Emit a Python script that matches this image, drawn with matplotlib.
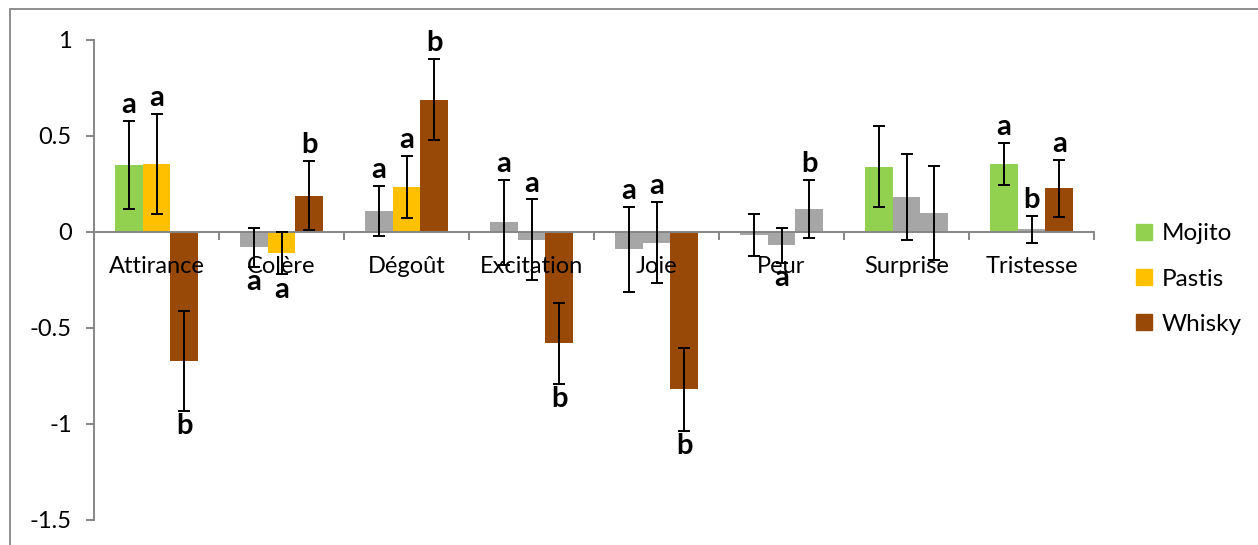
import numpy as np
import matplotlib
matplotlib.use("Agg")
import matplotlib.pyplot as plt
from matplotlib.patches import Rectangle, Patch

plt.rcParams.update({
    "font.family": ["Lato", "DejaVu Sans"],
    "font.size": 17,
})

# ===== DATA =====
categories = ["Attirance", "Colère", "Dégoût", "Excitation", "Joie", "Peur", "Surprise", "Tristesse"]
series = ["Mojito", "Pastis", "Whisky"]

mojito     = [0.35, -0.08, 0.11, 0.05, -0.09, -0.015, 0.34, 0.355]
mojito_err = [0.23, 0.10, 0.13, 0.22, 0.22, 0.11, 0.21, 0.11]
pastis     = [0.355, -0.11, 0.235, -0.04, -0.055, -0.07, 0.183, 0.015]
pastis_err = [0.26, 0.11, 0.16, 0.21, 0.21, 0.09, 0.225, 0.07]
whisky     = [-0.67, 0.19, 0.69, -0.58, -0.82, 0.12, 0.10, 0.227]
whisky_err = [0.26, 0.18, 0.21, 0.21, 0.215, 0.15, 0.245, 0.15]

# significant (coloured) or not (grey)
mojito_sig = [1, 0, 0, 0, 0, 0, 1, 1]
pastis_sig = [1, 1, 1, 0, 0, 0, 0, 0]
whisky_sig = [1, 1, 1, 1, 1, 0, 0, 1]

# letters and where they go (+1 above error bar, -1 below)
mojito_let = ["a", "a", "a", "a", "a", "", "", "a"]
mojito_dir = [1, -1, 1, 1, 1, 0, 0, 1]
pastis_let = ["a", "a", "a", "a", "a", "a", "", "b"]
pastis_dir = [1, -1, 1, 1, 1, -1, 0, 1]
whisky_let = ["b", "b", "b", "b", "b", "b", "", "a"]
whisky_dir = [-1, 1, 1, -1, -1, 1, 0, 1]

C_MOJ = "#92D050"
C_PAS = "#FFC000"
C_WHI = "#984807"
C_NS = "#A6A6A6"
C_AX = "#868686"

W, H = 1258, 545
fig = plt.figure(figsize=(W / 100, H / 100), dpi=100)
ax = fig.add_axes([94 / W, (H - 520) / H, 1000 / W, 480 / H])
ax.set_axisbelow(False)

# chart area border (Excel style)
fig.add_artist(Rectangle((9.5 / W, -0.1), 1.2, (H - 9) / H + 0.1, transform=fig.transFigure,
                         fill=False, edgecolor=C_AX, lw=1.3))

x = np.arange(len(categories))
bw = 0.222
groups = [
    (mojito, mojito_err, mojito_sig, mojito_let, mojito_dir, C_MOJ),
    (pastis, pastis_err, pastis_sig, pastis_let, pastis_dir, C_PAS),
    (whisky, whisky_err, whisky_sig, whisky_let, whisky_dir, C_WHI),
]

for k, (vals, errs, sig, lets, dirs, col) in enumerate(groups):
    xs = x + (k - 1) * bw
    cols = [col if s else C_NS for s in sig]
    ax.bar(xs, vals, width=bw, color=cols, edgecolor="none", zorder=1)
    ax.errorbar(xs, vals, yerr=errs, fmt="none", ecolor="black", elinewidth=1.4,
                capsize=4.6, capthick=1.4, zorder=4)
    for xi, v, e, l, d in zip(xs, vals, errs, lets, dirs):
        if not l:
            continue
        if d > 0:
            ax.annotate(l, (xi, v + e), xytext=(0, 2), textcoords="offset points",
                        ha="center", va="bottom", fontweight="bold", fontsize=21, zorder=5)
        else:
            ax.annotate(l, (xi, v - e), xytext=(0, -2), textcoords="offset points",
                        ha="center", va="top", fontweight="bold", fontsize=21, zorder=5)

ax.set_xlim(-0.5, len(categories) - 0.5)
ax.set_ylim(-1.5, 1)
ax.set_yticks([-1.5, -1, -0.5, 0, 0.5, 1])
ax.set_yticklabels(["-1.5", "-1", "-0.5", "0", "0.5", "1"])

for s in ["top", "right"]:
    ax.spines[s].set_visible(False)
ax.spines["bottom"].set_position(("data", 0))
ax.spines["bottom"].set_color(C_AX)
ax.spines["left"].set_color(C_AX)
ax.spines["bottom"].set_linewidth(1.4)
ax.spines["left"].set_linewidth(1.4)
ax.spines["bottom"].set_zorder(3)

ax.set_xticks(np.arange(len(categories) + 1) - 0.5)
ax.set_xticklabels([])
ax.set_xticks(x, minor=True)
ax.set_xticklabels(categories, minor=True)
ax.tick_params(axis="x", which="major", length=5.5, width=1.4, color=C_AX, direction="out")
ax.tick_params(axis="x", which="minor", length=0, pad=17)
ax.tick_params(axis="y", length=6, width=1.4, color=C_AX, pad=10)

handles = [Patch(color=c) for c in (C_MOJ, C_PAS, C_WHI)]
fig.legend(handles, series, loc="center left", bbox_to_anchor=(1124 / W, (H - 279) / H),
           frameon=False, handlelength=0.65, handleheight=0.65, handletextpad=0.4,
           labelspacing=1.0, borderpad=0, fontsize=17.5)

fig.savefig("out.png", dpi=100)
